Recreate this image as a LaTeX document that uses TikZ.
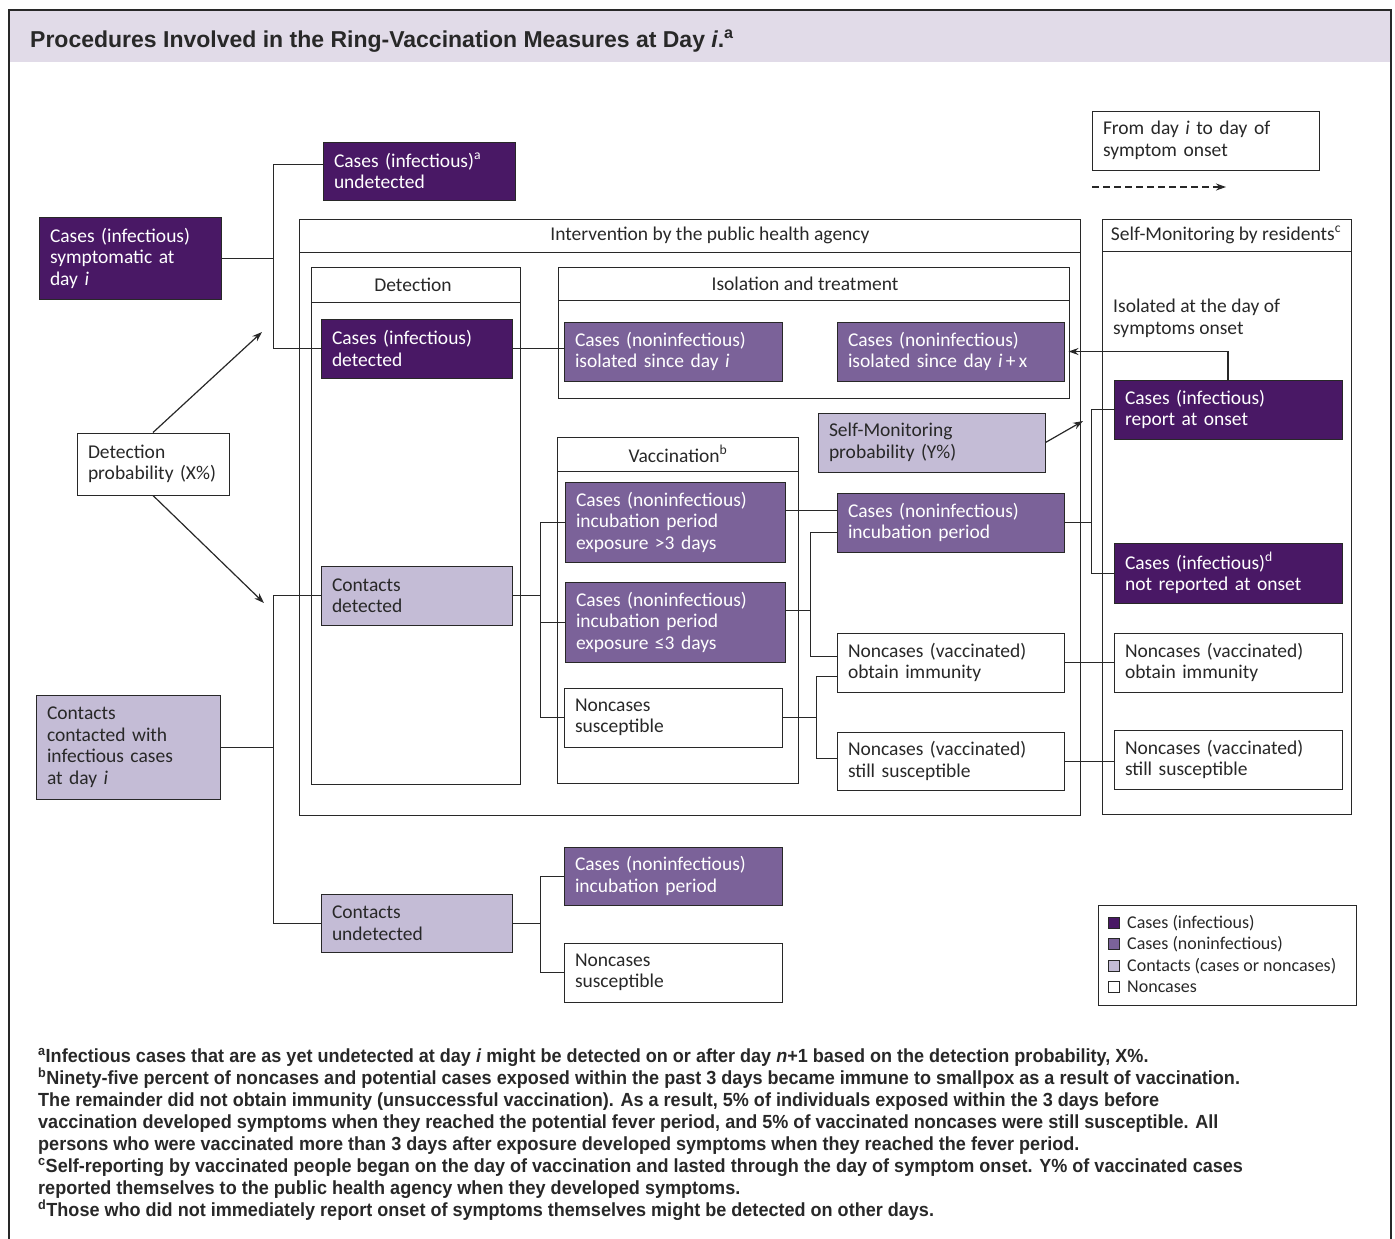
\documentclass[tikz,border=0pt]{standalone}
\usepackage{fontspec}
\setmainfont{Carlito}
\newfontfamily\cbf{Liberation Sans}[FakeStretch=0.95]
\newfontfamily\tbf{Liberation Sans}[FakeStretch=1.0]
\usetikzlibrary{arrows.meta}
\definecolor{dk}{RGB}{73,24,101}
\definecolor{md}{RGB}{123,98,153}
\definecolor{lt}{RGB}{196,188,214}
\definecolor{band}{RGB}{225,219,232}
\definecolor{ink}{RGB}{40,40,40}
\newcommand\bodyfont{\fontsize{19.5}{21.5}\selectfont}
\newcommand\mybox[7]{%
  \pgfmathsetmacro\bw{#5-#3}\pgfmathsetmacro\bh{#6-#4}\pgfmathsetmacro\tw{#5-#3-22}%
  \node[#1, minimum width=\bw pt, minimum height=\bh pt, text width=\tw pt] (#2) at ({(#3+#5)/2},{(#4+#6)/2}) {#7};}
\newcommand\mycont[8]{%
  \draw[frame] (#2,#3) rectangle (#4,#5);
  \draw[frame] (#2,#6) -- (#4,#6);
  \node[hdr] (#1) at ({#7},{(#3+#6)/2}) {#8};}
\begin{document}
\begin{tikzpicture}[x=1pt,y=-1pt,
  bx/.style={draw=ink, line width=1pt, rectangle, inner xsep=11pt, inner ysep=0pt, align=left, font=\bodyfont},
  dkbox/.style={bx, fill=dk, text=white},
  mdbox/.style={bx, fill=md, text=white},
  ltbox/.style={bx, fill=lt, text=ink},
  wtbox/.style={bx, fill=white, text=ink},
  frame/.style={draw=ink, line width=1pt},
  hdr/.style={inner sep=0pt, font=\bodyfont, text=ink},
  ln/.style={draw=ink, line width=1pt},
  arr/.style={draw=ink, line width=1.2pt, -{Stealth[length=10pt,width=7pt]}},
  fn/.style={anchor=base west, inner sep=0pt, text=ink, font=\cbf\bfseries\fontsize{19}{22}\selectfont},
  sq/.style={draw=ink, line width=0.8pt, minimum size=11pt, inner sep=0pt},
  lg/.style={anchor=west, inner sep=0pt, text=ink, font=\fontsize{18}{20}\selectfont}]
\useasboundingbox (0,0) rectangle (1395,1239);
% title band and frame
\fill[band] (9,10) rectangle (1391,62);
\draw[ink, line width=2.5pt] (9,1239) -- (9,10) -- (1391,10) -- (1391,1239);
\node[anchor=base west, inner sep=0pt, text=ink, font=\tbf\bfseries\fontsize{23}{27}\selectfont] (title) at (30,48)
  {Procedures Involved in the Ring-Vaccination Measures at Day \textit{i}.\textsuperscript{a}};

% containers
\mycont{intv}{299}{219}{1080}{815}{252}{710}{Intervention by the public health agency}
\mycont{detc}{311}{267}{520}{784}{302}{413}{Detection}
\mycont{isoc}{558}{267}{1069}{398}{300}{805}{Isolation and treatment}
\mycont{vacc}{557}{437}{798}{783}{471}{678}{Vaccination\textsuperscript{b}}
\mycont{smc}{1102}{219}{1351}{814}{251}{1226}{Self-Monitoring by residents\textsuperscript{c}}

% key box top right
\mybox{wtbox, inner xsep=9pt}{fromday}{1092}{111}{1319}{170}{From day \textit{i} to day of\\symptom onset}
\coordinate (d1) at (1092,187);
\coordinate (d2) at (1226,187);
\draw[arr, dash pattern=on 7pt off 4pt] (d1) -- (d2);

% boxes
\mybox{dkbox}{sympt}{39}{217}{221}{299}{Cases (infectious)\\symptomatic at\\day \textit{i}}
\mybox{dkbox}{undet}{323}{142}{515}{200}{Cases (infectious)\textsuperscript{a}\\undetected}
\mybox{dkbox}{det}{321}{319}{512}{378}{Cases (infectious)\\detected}
\mybox{mdbox}{iso1}{564}{322}{782}{381}{Cases (noninfectious)\\isolated since day \textit{i}}
\mybox{mdbox}{iso2}{837}{322}{1064}{381}{Cases (noninfectious)\\isolated since day \textit{i}\,+\,x}
\mybox{ltbox}{selfprob}{818}{413}{1045}{472}{Self-Monitoring\\probability (Y\%)}
\mybox{mdbox}{inc3}{565}{482}{785}{562}{Cases (noninfectious)\\incubation period\\exposure >3 days}
\mybox{mdbox}{incle3}{565}{582}{785}{662}{Cases (noninfectious)\\incubation period\\exposure ≤3 days}
\mybox{wtbox}{nonsus}{564}{688}{782}{747}{Noncases\\susceptible}
\mybox{mdbox}{incP}{837}{493}{1064}{552}{Cases (noninfectious)\\incubation period}
\mybox{wtbox}{nimm}{837}{633}{1064}{692}{Noncases (vaccinated)\\obtain immunity}
\mybox{wtbox}{nsus}{837}{732}{1064}{790}{Noncases (vaccinated)\\still susceptible}
\mybox{dkbox}{report}{1114}{380}{1342}{439}{Cases (infectious)\\report at onset}
\mybox{dkbox}{notrep}{1114}{543}{1342}{603}{Cases (infectious)\textsuperscript{d}\\not reported at onset}
\mybox{wtbox}{rimm}{1114}{633}{1342}{692}{Noncases (vaccinated)\\obtain immunity}
\mybox{wtbox}{rsus}{1114}{730}{1342}{789}{Noncases (vaccinated)\\still susceptible}
\mybox{wtbox, inner xsep=8pt}{detprob}{77}{433}{229}{495}{Detection\\probability (X\%)}
\mybox{ltbox}{contacts}{36}{695}{220}{799}{Contacts\\contacted with\\infectious cases\\at day \textit{i}}
\mybox{ltbox}{cdet}{321}{566}{512}{625}{Contacts\\detected}
\mybox{ltbox}{cundet}{321}{894}{512}{952}{Contacts\\undetected}
\mybox{mdbox}{uinc}{564}{847}{782}{905}{Cases (noninfectious)\\incubation period}
\mybox{wtbox}{unon}{564}{943}{782}{1002}{Noncases\\susceptible}
\node[anchor=north west, inner sep=0pt, align=left, font=\bodyfont, text=ink] (isotxt) at (1113,299)
  {Isolated at the day of\\symptoms onset};

% junction coordinates
\coordinate (j1) at (273,258);
\coordinate (j3) at (540,0);
\coordinate (j4) at (810,0);
\coordinate (j5) at (816,0);
\coordinate (j6) at (1091,0);
\coordinate (a1) at (262,332);
\coordinate (a2) at (264,603);
\coordinate (a3) at (1083,421);

% connectors
\draw[ln] (sympt.east) -- (sympt.east -| j1);
\draw[ln] ([yshift=7pt]undet.west) -| (det.west -| j1) -- (det.west);
\draw[arr] (detprob.north) -- (a1);
\draw[arr] (detprob.south) -- (a2);
\draw[ln] (contacts.east) -- (contacts.east -| j1);
\draw[ln] (cdet.west) -| (cundet.west -| j1) -- (cundet.west);
\draw[ln] (det.east) -- (det.east -| iso1.west);
\draw[ln] (cdet.east) -- (cdet.east -| j3);
\draw[ln] (inc3.west) -| (nonsus.west -| j3) -- (nonsus.west);
\draw[ln] (incle3.west) -- (incle3.west -| j3);
\draw[ln] ([yshift=12pt]inc3.east) -- ([yshift=12pt]inc3.east -| incP.west);
\draw[ln] ([yshift=12pt]incle3.east) -- ([yshift=12pt]incle3.east -| j4);
\draw[ln] ([yshift=-10pt]incP.west) -| ([yshift=6pt]nimm.west -| j4) -- ([yshift=6pt]nimm.west);
\draw[ln] (nonsus.east) -- (nonsus.east -| j5);
\draw[ln] ([yshift=-14pt]nimm.west) -| ([yshift=3pt]nsus.west -| j5) -- ([yshift=3pt]nsus.west);
\draw[ln] (incP.east) -- (incP.east -| j6);
\draw[ln] (report.west) -| (notrep.west -| j6) -- (notrep.west);
\draw[ln] (nimm.east) -- (rimm.west);
\draw[ln] (nsus.east) -- (nsus.east -| rsus.west);
\draw[arr] (report.north) |- ([xshift=4pt]iso2.east);
\draw[arr] (selfprob.east) -- (a3);
\draw[ln] (cundet.east) -- (cundet.east -| j3);
\draw[ln] (uinc.west) -| (unon.west -| j3) -- (unon.west);

% legend
\node[draw=ink, line width=1pt, minimum width=258pt, minimum height=100pt, inner sep=0pt] (legend) at (1227,955) {};
\node[sq, fill=dk] (s1) at (1114,923) {};
\node[sq, fill=md] (s2) at (1114,944) {};
\node[sq, fill=lt] (s3) at (1114,966) {};
\node[sq, fill=white] (s4) at (1114,987) {};
\node[lg] (t1) at (1127,923) {Cases (infectious)};
\node[lg] (t2) at (1127,944) {Cases (noninfectious)};
\node[lg] (t3) at (1127,966) {Contacts (cases or noncases)};
\node[lg] (t4) at (1127,987) {Noncases};

% footnotes
\node[fn] (f1) at (38,1062) {\textsuperscript{a}Infectious cases that are as yet undetected at day \textit{i} might be detected on or after day \textit{n}+1 based on the detection probability, X\%.};
\node[fn] (f2) at (38,1084) {\textsuperscript{b}Ninety-five percent of noncases and potential cases exposed within the past 3 days became immune to smallpox as a result of vaccination.};
\node[fn] (f3) at (38,1106) {The remainder did not obtain immunity (unsuccessful vaccination). As a result, 5\% of individuals exposed within the 3 days before};
\node[fn] (f4) at (38,1128) {vaccination developed symptoms when they reached the potential fever period, and 5\% of vaccinated noncases were still susceptible. All};
\node[fn] (f5) at (38,1150) {persons who were vaccinated more than 3 days after exposure developed symptoms when they reached the fever period.};
\node[fn] (f6) at (38,1172) {\textsuperscript{c}Self-reporting by vaccinated people began on the day of vaccination and lasted through the day of symptom onset. Y\% of vaccinated cases};
\node[fn] (f7) at (38,1194) {reported themselves to the public health agency when they developed symptoms.};
\node[fn] (f8) at (38,1216) {\textsuperscript{d}Those who did not immediately report onset of symptoms themselves might be detected on other days.};
\end{tikzpicture}
\end{document}
